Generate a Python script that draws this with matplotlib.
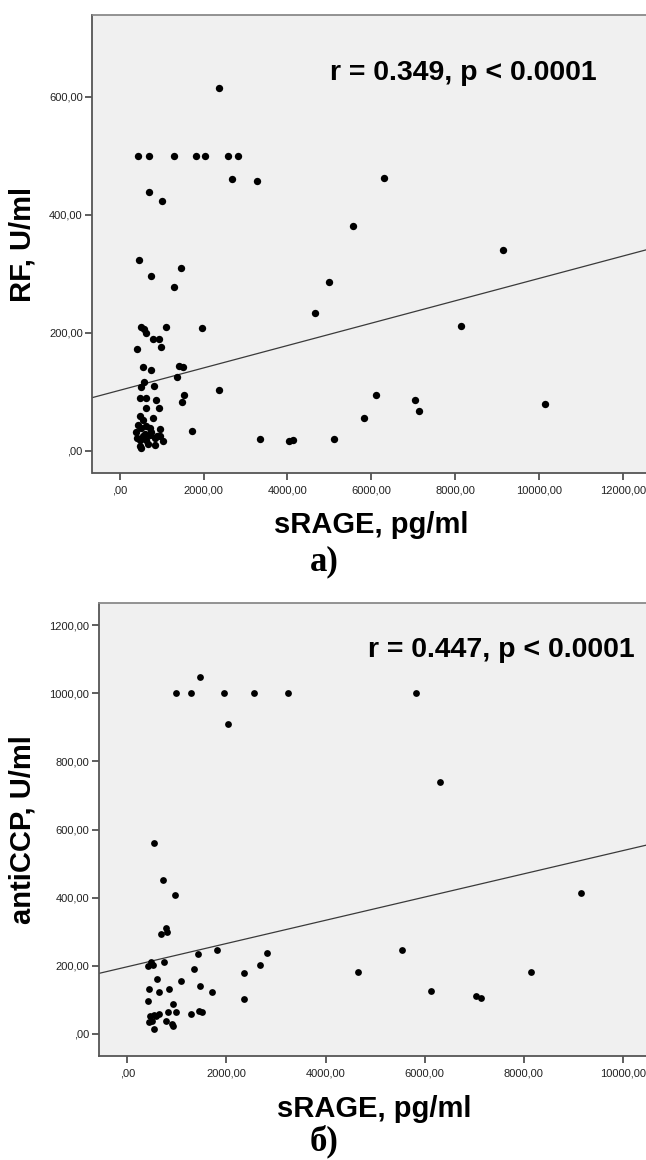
import numpy as np
import matplotlib
matplotlib.use("Agg")
import matplotlib.pyplot as plt
from matplotlib.ticker import FuncFormatter

plt.rcParams['font.family'] = ['Liberation Sans', 'DejaVu Sans']

W, H = 646, 1160

# panel a) sRAGE vs RF
rf_x = [2369, 442, 708, 1297, 1828, 2044, 2575, 2821, 2683, 3263, 6310, 698,
        1012, 5553, 9140, 462, 1464, 747, 1297, 5002, 4668, 8147, 1966, 2369,
        6123, 7037, 10133, 7135, 5828, 1720, 3341, 4029, 4138, 5111,
        416, 479, 519, 559, 678, 718, 837, 837, 1036, 972, 638, 519, 440, 559,
        798, 479, 638, 933, 479, 638, 861, 1474, 1530, 519, 575, 821, 1355,
        551, 750, 1418, 1498, 416, 981, 798, 941, 638, 575, 519, 1100,
        599, 758, 893, 400, 479, 623, 957, 718]
rf_y = [616, 500, 500, 500, 500, 500, 500, 500, 461, 457, 462, 439,
        423, 381, 341, 324, 309, 297, 278, 286, 234, 211, 208, 103,
        95, 85, 79, 67, 56, 34, 19, 16, 18, 19,
        21, 7, 4, 24, 12, 27, 10, 21, 17, 36, 42, 38, 43, 52,
        56, 58, 72, 72, 89, 90, 85, 82, 95, 108, 117, 110, 125,
        142, 137, 143, 142, 172, 175, 189, 190, 199, 206, 209, 209,
        29, 32, 24, 32, 18, 18, 24, 38]
rf_fit = (102.3, 0.01898)  # intercept, slope of the drawn line
rf_label = "r = 0.349, p < 0.0001"

# panel б) sRAGE vs antiCCP
ccp_x = [1473, 990, 1278, 1949, 2564, 3250, 5830, 2034, 6313, 546, 719, 961,
         9150, 786, 800, 685, 5549, 1808, 2814, 1418, 484, 410, 517, 733,
         2673, 1337, 2362, 4653, 8153, 605, 1082, 1458, 437, 840, 645, 1707,
         6126, 2362, 7038, 7131, 423, 927, 820, 974, 1277, 1438, 1512, 531,
         632, 585, 464, 497, 430, 786, 900, 921, 531]
ccp_y = [1049, 1000, 1000, 1000, 1000, 1000, 1000, 910, 740, 561, 452, 407,
         412, 310, 300, 293, 246, 245, 238, 235, 210, 200, 202, 210,
         203, 190, 177, 181, 181, 160, 155, 141, 131, 131, 121, 121,
         125, 103, 110, 106, 97, 86, 62, 62, 57, 67, 62, 56,
         58, 51, 51, 36, 33, 36, 29, 23, 13]
ccp_fit = (196.4, 0.03416)
ccp_label = "r = 0.447, p < 0.0001"


def spss_fmt(v, pos):
    s = f"{v:.2f}".replace(".", ",")
    if s.startswith("0,"):
        s = s[1:]
    return s


def box(left, top, right, bottom):
    # pixel box -> figure fraction
    return [left / W, 1 - bottom / H, (right - left) / W, (bottom - top) / H]


def ylab_x(rect):
    # label's right edge sits near x = 37 px
    return (37 / W - rect[0]) / rect[2]


def panel(fig, rect, xs, ys, fit, xlim, ylim, xticks, yticks, ylab, note,
          note_xy, xlab_y, letter, letter_y, ms):
    ax = fig.add_axes(rect)
    ax.set_facecolor("#f0f0f0")
    ax.scatter(xs, ys, s=ms, color="black", linewidths=0, zorder=3)
    lx = np.array(xlim)
    ax.plot(lx, fit[0] + fit[1] * lx, color="#3a3a3a", lw=0.9, zorder=2)
    ax.set_xlim(xlim)
    ax.set_ylim(ylim)
    ax.set_xticks(xticks)
    ax.set_yticks(yticks)
    ax.xaxis.set_major_formatter(FuncFormatter(spss_fmt))
    ax.yaxis.set_major_formatter(FuncFormatter(spss_fmt))
    ax.tick_params(direction="out", length=5, width=1.1, color="#333333",
                   labelsize=8, labelcolor="#222222", pad=2)
    ax.tick_params(axis="x", pad=4)
    for side in ("left", "bottom", "top"):
        ax.spines[side].set_color("#555555")
        ax.spines[side].set_linewidth(1.3)
    ax.spines["top"].set_color("#8a8a8a")
    ax.spines["right"].set_visible(False)
    ax.set_ylabel(ylab, fontsize=21, fontweight="bold")
    ax.yaxis.set_label_coords(ylab_x(rect), 0.5)
    cx = rect[0] + rect[2] / 2
    fig.text(cx, 1 - xlab_y / H, "sRAGE, pg/ml", fontsize=21,
             fontweight="bold", ha="center", va="baseline")
    fig.text(note_xy[0] / W, 1 - note_xy[1] / H, note, fontsize=20.5,
             fontweight="bold", ha="left", va="baseline")
    fig.text(324 / W, 1 - letter_y / H, letter, fontsize=25,
             fontweight="bold", family=["Liberation Serif", "DejaVu Serif"],
             ha="center", va="baseline")
    return ax


fig = plt.figure(figsize=(W / 100, H / 100), dpi=100)

panel(fig, box(92.5, 15, 651, 473), rf_x, rf_y, rf_fit,
      (-649, 12670), (-38, 739), range(0, 12001, 2000), range(0, 601, 200),
      "RF, U/ml", rf_label, (330, 80), 533, "а)", 570, 28)

panel(fig, box(99, 603, 650, 1056), ccp_x, ccp_y, ccp_fit,
      (-569, 10544), (-66, 1266), range(0, 10001, 2000), range(0, 1201, 200),
      "antiCCP, U/ml", ccp_label, (368, 657), 1117, "б)", 1150, 24)

fig.savefig("out.png", dpi=100)
